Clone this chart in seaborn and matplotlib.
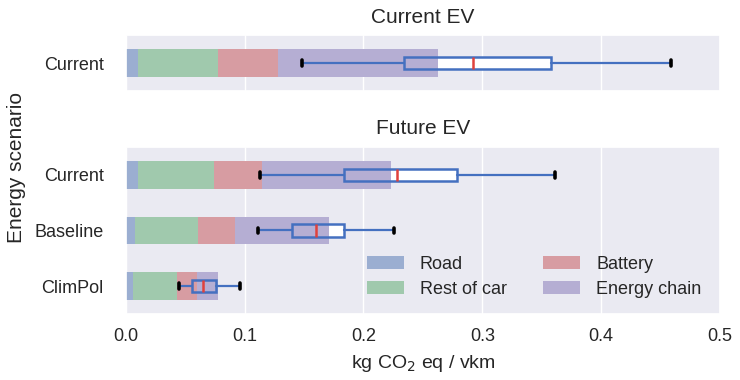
import numpy as np
import pandas as pd
import matplotlib
matplotlib.use("Agg")
import matplotlib.pyplot as plt
import matplotlib.colors as mcolors
from matplotlib.patches import Patch
import seaborn as sns

# energy scenarios per panel
SCEN_NOW = ["Current"]
SCEN_FUTURE = ["Current", "Baseline", "ClimPol"]

# contributions, kg CO2 eq / vkm
ROAD_NOW = [0.010]
REST_NOW = [0.068]
BATTERY_NOW = [0.050]
CHAIN_NOW = [0.135]

ROAD_FUT = [0.010, 0.008, 0.006]
REST_FUT = [0.064, 0.053, 0.037]
BATTERY_FUT = [0.041, 0.031, 0.017]
CHAIN_FUT = [0.108, 0.079, 0.018]

# box stats: whisker low, q1, median, q3, whisker high
BOX_NOW = [[0.148, 0.2345, 0.2925, 0.358, 0.459]]
BOX_FUT = [
    [0.1126, 0.184, 0.228, 0.279, 0.361],
    [0.111, 0.140, 0.160, 0.184, 0.2255],
    [0.0448, 0.056, 0.065, 0.0756, 0.0958],
]

PARTS = ["Road", "Rest of car", "Battery", "Energy chain"]

sns.set_theme(style="darkgrid")
plt.rcParams["font.family"] = ["Liberation Sans", "DejaVu Sans"]

BG = np.array(mcolors.to_rgb("#EAEAF2"))
deep = sns.color_palette("deep")
base_cols = [deep[0], deep[2], deep[3], deep[4]]
# light tints as seen in the picture (colour at ~50% over the axes background)
COLS = [tuple(0.5 * np.array(c) + 0.5 * BG) for c in base_cols]
BOX_BLUE = "#4470c0"


def draw_panel(ax, scen, parts, boxes, title):
    df = pd.DataFrame({"scenario": scen})
    cum = np.zeros(len(scen))
    cums = []
    for p in parts:
        cum = cum + np.array(p)
        cums.append(cum.copy())
    # draw from the longest cumulative bar down so each segment shows
    for i in reversed(range(len(parts))):
        df["val"] = cums[i]
        sns.barplot(data=df, x="val", y="scenario", orient="h", color=COLS[i],
                    saturation=1, width=0.5, linewidth=0, ax=ax, zorder=2)

    stats = []
    for b in boxes:
        stats.append({"whislo": b[0], "q1": b[1], "med": b[2], "q3": b[3],
                      "whishi": b[4], "fliers": []})
    pos = range(len(scen))
    # white box fill sits under the bars, outlines on top
    ax.bxp(stats, positions=pos, vert=False, widths=0.22, patch_artist=True,
           manage_ticks=False, showcaps=False,
           boxprops=dict(facecolor="white", edgecolor="none"),
           whiskerprops=dict(linewidth=0), medianprops=dict(linewidth=0),
           zorder=1.5)
    ax.bxp(stats, positions=pos, vert=False, widths=0.22, patch_artist=True,
           manage_ticks=False, capwidths=0.1,
           boxprops=dict(facecolor="none", edgecolor=BOX_BLUE, linewidth=1.8),
           whiskerprops=dict(color=BOX_BLUE, linewidth=1.6),
           capprops=dict(color="black", linewidth=2.6),
           medianprops=dict(color="#e0413c", linewidth=1.8),
           zorder=3)

    ax.set_xlim(0, 0.5)
    ax.set_ylim(len(scen) - 0.5, -0.5)
    ax.set_xticks(np.arange(0, 0.51, 0.1))
    ax.set_xlabel("")
    ax.set_ylabel("")
    ax.set_title(title, fontsize=15, pad=9)
    ax.tick_params(axis="y", labelsize=13, pad=10)
    ax.tick_params(axis="x", labelsize=13, pad=4)


fig = plt.figure(figsize=(7.4, 3.8), dpi=100)
ax_top = fig.add_axes([0.170, 0.7605, 0.803, 0.147])
ax_bot = fig.add_axes([0.170, 0.1737, 0.803, 0.4395])

draw_panel(ax_top, SCEN_NOW, [ROAD_NOW, REST_NOW, BATTERY_NOW, CHAIN_NOW], BOX_NOW, "Current EV")
draw_panel(ax_bot, SCEN_FUTURE, [ROAD_FUT, REST_FUT, BATTERY_FUT, CHAIN_FUT], BOX_FUT, "Future EV")
ax_top.set_xticklabels([])

ax_bot.set_xlabel("kg CO$_2$ eq / vkm", fontsize=14, labelpad=6)
fig.text(0.022, 0.56, "Energy scenario", rotation=90, fontsize=15, ha="center", va="center")

handles = [Patch(facecolor=c, edgecolor="none") for c in COLS]
ax_bot.legend(handles, PARTS, ncol=2, loc="lower right", bbox_to_anchor=(0.99, 0.02),
              frameon=False, fontsize=13, handlelength=2.05, handletextpad=0.9,
              columnspacing=2.0, labelspacing=0.45, borderaxespad=0.3)

fig.savefig("out.png", dpi=100)
